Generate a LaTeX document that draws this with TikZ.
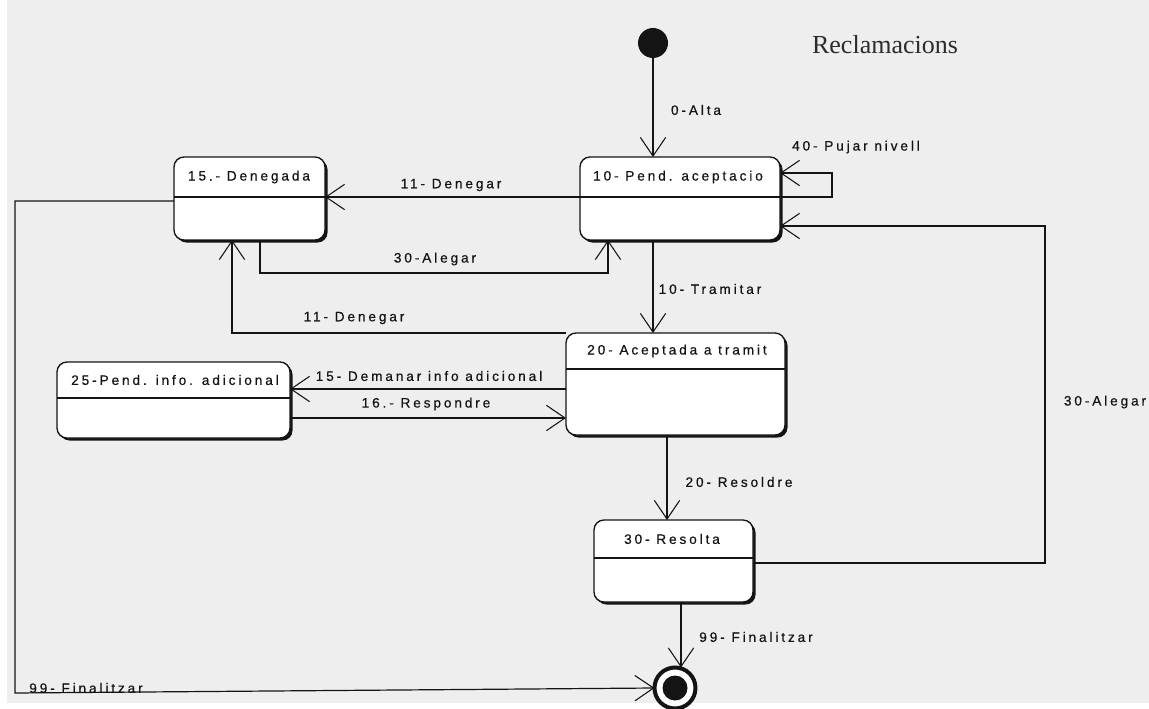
\documentclass[tikz,border=0pt]{standalone}
\usepackage{fontspec}
\newfontfamily\labfont{Liberation Sans}[LetterSpace=21,FakeBold=0.5]
\newfontfamily\titlefont{Liberation Serif}
\usetikzlibrary{arrows.meta,shadows}
\definecolor{bg}{RGB}{238,238,238}
\definecolor{ink}{RGB}{20,20,20}
\begin{document}
\begin{tikzpicture}[x=0.75pt,y=-0.75pt,
  every node/.style={inner sep=0pt, outer sep=0pt},
  state/.style={draw=ink, line width=1pt, fill=white, rounded corners=7.5pt,
    general shadow={fill=ink, shadow xshift=1.9pt, shadow yshift=-1.9pt}},
  lab/.style={font=\labfont\fontsize{10.25}{12}\selectfont, text=ink},
  link/.style={draw=ink, line width=0.9pt},
  conn/.style={link, -{Straight Barb[length=14pt,width=19pt,line width=0.8pt]}},
  divider/.style={draw=ink, line width=0.8pt}
]
\useasboundingbox (0,0) rectangle (1149,709);
\clip (0,0) rectangle (1149,709);
\fill[white] (0,0) rectangle (1149,709);
\fill[bg] (7,0) rectangle (1149,703);

% title
\node[font=\titlefont\fontsize{19.5}{22}\selectfont, text=ink!90] (title) at (885,45) {Reclamacions};

% pseudo states
\node[circle, fill=ink, minimum size=22.5pt] (init) at (653,43) {};
\node[circle, draw=ink, line width=3pt, fill=white, minimum size=30.75pt] (fin) at (675,688) {};
\node[circle, fill=ink, minimum size=18.75pt] (finc) at (675,688) {};

% states
\node[state, minimum width=150pt,    minimum height=62.25pt, anchor=north west] (pend) at (580,157) {};
\node[state, minimum width=113.25pt, minimum height=62.25pt, anchor=north west] (den)  at (174,157) {};
\node[state, minimum width=164.25pt, minimum height=76.5pt,  anchor=north west] (acc)  at (566,333) {};
\node[state, minimum width=174.75pt, minimum height=57pt,    anchor=north west] (info) at (57,362) {};
\node[state, minimum width=119.25pt, minimum height=61.5pt,  anchor=north west] (res)  at (594,520) {};

\draw[divider] (pend.west |- 0,197) -- (pend.east |- 0,197);
\draw[divider] (den.west |- 0,197) -- (den.east |- 0,197);
\draw[divider] (acc.west |- 0,369) -- (acc.east |- 0,369);
\draw[divider] (info.west |- 0,398) -- (info.east |- 0,398);
\draw[divider] (res.west |- 0,558) -- (res.east |- 0,558);

\node[lab] (tpend) at (678,177) {10- Pend. aceptacio};
\node[lab] (tden)  at (249,177) {15.- Denegada};
\node[lab] (tacc)  at (677,351) {20- Aceptada a tramit};
\node[lab] (tinfo) at (175,380) {25-Pend. info. adicional};
\node[lab] (tres)  at (672,539) {30- Resolta};

% transitions
\draw[conn] (init) -- (pend.north -| init);
\draw[conn] (pend.east |- 0,197) -- (832,197) -- (832,173) -- (pend.east |- 0,173);
\draw[conn] (pend.west |- 0,197) -- (den.east |- 0,197);
\draw[conn] (den.south -| 260,0) -- (260,273) -- (608,273) -- (pend.south -| 608,0);
\draw[conn] (acc.north west) -- (232,333) -- (den.south -| 232,0);
\draw[conn] (pend.south -| init) -- (acc.north -| init);
\draw[conn] (acc.west |- 0,389) -- (info.east |- 0,389);
\draw[conn] (info.east |- 0,418) -- (acc.west |- 0,418);
\draw[conn] (acc.south -| 667,0) -- (res.north -| 667,0);
\draw[conn] (res.east |- 0,563) -- (1045,563) -- (1045,226) -- (pend.east |- 0,226);
\draw[conn] (res.south -| 681,0) -- (fin.north -| 681,0);
\draw[conn] (den.west |- 0,201) -- (15,201) -- (15,693) -- (fin.west);

% transition labels
\node[lab] (l0)  at (696,110) {0-Alta};
\node[lab] (l40) at (856,147) {40- Pujar nivell};
\node[lab] (l11a) at (451,185) {11- Denegar};
\node[lab] (l30a) at (435,259) {30-Alegar};
\node[lab] (l11b) at (354,318) {11- Denegar};
\node[lab] (l10) at (710,289) {10- Tramitar};
\node[lab] (l15) at (429,376) {15- Demanar info adicional};
\node[lab] (l16) at (426,404) {16.- Respondre};
\node[lab] (l20) at (739,482) {20- Resoldre};
\node[lab] (l99a) at (756,637) {99- Finalitzar};
\node[lab] (l30b) at (1105,402) {30-Alegar};
\node[lab] (l99b) at (86,688) {99- Finalitzar};
\end{tikzpicture}
\end{document}
